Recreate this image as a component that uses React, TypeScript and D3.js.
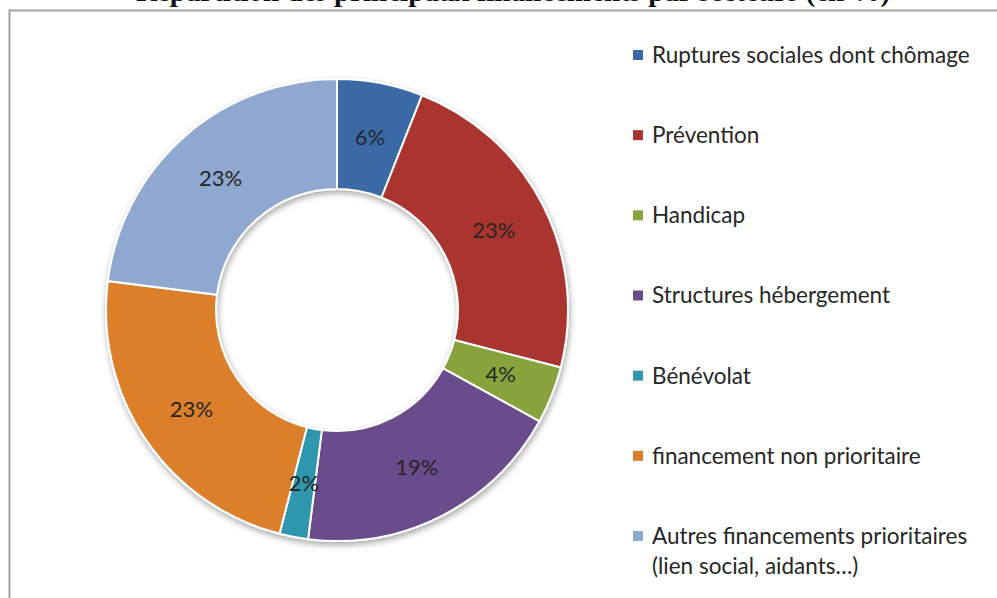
import { useRef, useEffect } from 'react';
import * as d3 from 'd3';

const categories = [
  'Ruptures sociales dont chômage',
  'Prévention',
  'Handicap',
  'Structures hébergement',
  'Bénévolat',
  'financement non prioritaire',
  'Autres financements prioritaires|(lien social, aidants…)',
];
const values = [6, 23, 4, 19, 2, 23, 23];
const colors = ['#3a69a6', '#a9352f', '#88a33b', '#6b4b8b', '#2f97ae', '#db7f2c', '#8fa8cf'];
const title = 'Répartition des principaux financements par secteurs (en %)';

const W = 997;
const H = 598;
const FONT = 'Lato, "Open Sans", sans-serif';

export default function App() {
  const svgRef = useRef<SVGSVGElement>(null);

  useEffect(() => {
    if (!svgRef.current) return;
    const el = svgRef.current;
    d3.select(el).selectAll('*').remove();
    const svg = d3.select(el);

    const defs = svg.append('defs');
    const f = defs.append('filter').attr('id', 'shadow').attr('x', '-10%').attr('y', '-10%').attr('width', '120%').attr('height', '120%');
    f.append('feDropShadow').attr('dx', 1).attr('dy', 3).attr('stdDeviation', 3)
      .attr('flood-color', '#000').attr('flood-opacity', 0.35);

    // title, mostly cropped off at the top of the picture
    svg.append('text').attr('x', 513).attr('y', 1).attr('text-anchor', 'middle')
      .attr('font-family', '"Liberation Serif", serif').attr('font-weight', 'bold').attr('font-size', 29)
      .attr('fill', '#111').text(title);

    // chart frame
    svg.append('rect').attr('x', 9.5).attr('y', 10.5).attr('width', 1100).attr('height', 700)
      .attr('fill', 'none').attr('stroke', '#a3a3a3').attr('stroke-width', 2);

    const cx = 337;
    const cy = 310;
    const outer = 231;
    const inner = 121;

    const pie = d3.pie<number>().value((d) => d).sort(null);
    const arcs = pie(values);
    const arc = d3.arc<d3.PieArcDatum<number>>().innerRadius(inner).outerRadius(outer);
    const labelArc = d3.arc<d3.PieArcDatum<number>>().innerRadius((inner + outer) / 2).outerRadius((inner + outer) / 2);

    const g = svg.append('g').attr('transform', `translate(${cx},${cy})`);
    g.append('g').attr('filter', 'url(#shadow)')
      .selectAll('path').data(arcs).join('path')
      .attr('d', arc)
      .attr('fill', (_, i) => colors[i])
      .attr('stroke', '#fff').attr('stroke-width', 2);

    g.selectAll('text.lbl').data(arcs).join('text')
      .attr('class', 'lbl')
      .attr('transform', (d) => `translate(${labelArc.centroid(d)})`)
      .attr('text-anchor', 'middle').attr('dy', '0.35em')
      .attr('font-family', FONT).attr('font-size', 22).attr('fill', '#262626')
      .text((d) => `${d.data}%`);

    // legend
    const ly = d3.scaleLinear().domain([0, categories.length - 1]).range([55, 536]);
    const leg = svg.append('g');
    categories.forEach((c, i) => {
      const y = ly(i);
      leg.append('rect').attr('x', 633).attr('y', y - 5).attr('width', 10).attr('height', 10).attr('fill', colors[i]);
      const lines = c.split('|');
      lines.forEach((t, j) => {
        leg.append('text').attr('x', 652).attr('y', y + j * 30).attr('dy', '0.35em')
          .attr('font-family', FONT).attr('font-size', 22.5).attr('fill', '#262626').text(t);
      });
    });
  }, []);

  return <svg ref={svgRef} width={W} height={H} style={{ position: 'absolute', left: 0, top: 0, background: '#fff' }} />;
}
